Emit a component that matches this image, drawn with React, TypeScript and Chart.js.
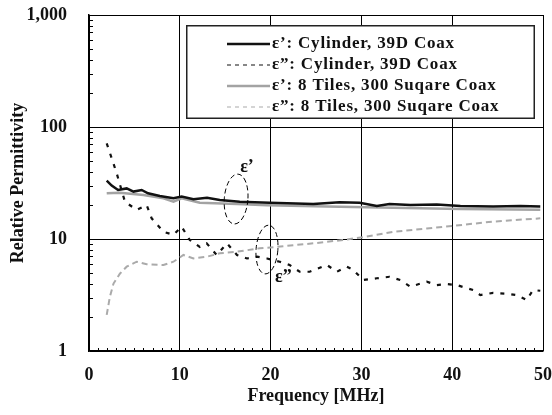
import React, { useEffect, useRef } from "react";
import { Chart, registerables } from "chart.js";

Chart.register(...registerables);

const legendLabels = [
  "ε’: Cylinder, 39D Coax",
  "ε”: Cylinder, 39D Coax",
  "ε’: 8 Tiles, 300 Suqare Coax",
  "ε”: 8 Tiles, 300 Suqare Coax",
];

const cylReal: [number, number][] = [
  [1.95, 33.2], [2.5, 30], [3.2, 27.4], [4.15, 28.3], [4.9, 26.5], [5.8, 27.4], [6.5, 25.6],
  [7.8, 24.2], [9.3, 23.1], [10.2, 23.9], [11.5, 22.6], [13.0, 23.4], [14.4, 22.3],
  [16.6, 21.5], [19.9, 21.1], [24.7, 20.5], [27.6, 21.3], [29.8, 21.1], [31.7, 19.7],
  [33.1, 20.5], [35.4, 20.1], [38.3, 20.3], [40.9, 19.7], [44.5, 19.5], [47.5, 19.7], [49.7, 19.5],
];

const cylImag: [number, number][] = [
  [1.95, 71.5], [2.5, 52.6], [3.05, 38.6], [3.96, 21.5], [5.25, 18.2], [6.35, 20.1], [6.9, 15.3],
  [8.2, 11.6], [9.3, 10.9], [10.2, 12.9], [11.1, 9.8], [12.2, 8.5], [12.96, 9.15], [14.06, 7.2],
  [15.2, 9.15], [16.3, 7.2], [17.4, 6.7], [18.5, 6.95], [19.6, 6.7], [21.0, 6.27], [22.1, 5.86],
  [23.2, 5.1], [24.3, 5.1], [26.2, 5.86], [27.3, 5.1], [28.4, 5.66], [29.1, 5.3], [30.2, 4.3],
  [31.7, 4.46], [33.1, 4.6], [34.3, 4.3], [35.4, 3.75], [37.2, 4.16], [38.3, 3.88], [39.4, 3.96],
  [40.5, 3.88], [42.3, 3.5], [43.1, 3.16], [44.5, 3.3], [46.0, 3.25], [47.1, 3.16], [48.2, 2.85],
  [48.9, 3.5], [49.7, 3.45],
];

const tileReal: [number, number][] = [
  [1.95, 25.6], [3.4, 25.9], [6.0, 24.7], [8.2, 23.1], [9.3, 21.5], [10.2, 23.1], [12.2, 21.1],
  [16.3, 20.5], [19.6, 20.0], [26.2, 19.5], [33.5, 19.0], [40.9, 18.5], [49.7, 18.2],
];

const tileImag: [number, number][] = [
  [1.95, 2.1], [2.3, 3.05], [2.7, 4.0], [3.4, 4.9], [4.15, 5.66], [5.25, 6.27], [6.35, 5.94],
  [8.2, 5.86], [9.3, 6.27], [10.4, 7.2], [11.5, 6.7], [13.0, 6.95], [14.4, 7.45], [16.3, 7.7],
  [18.8, 8.26], [20.7, 8.5], [22.5, 8.8], [24.7, 9.15], [28.0, 9.8], [30.2, 10.4], [33.5, 11.6],
  [37.2, 12.4], [40.1, 13.1], [44.5, 14.3], [49.7, 15.3],
];

const yTicks = [1, 10, 100, 1000];
const xTicks = [0, 10, 20, 30, 40, 50];

// annotation ellipses in data coords: [xMin, xMax, yMin, yMax]
const ellipses: [number, number, number, number][] = [
  [14.9, 17.5, 13.6, 38],
  [18.4, 20.8, 4.87, 13.3],
];
const annotLabels: [string, number, number][] = [
  ["ε’", 17.4, 44],
  ["ε”", 21.4, 4.5],
];

const FONT = "'Liberation Serif', 'DejaVu Serif', serif";

const decorPlugin = {
  id: "decor",
  afterDatasetsDraw(chart: any) {
    const ctx = chart.ctx;
    const xs = chart.scales.x;
    const ys = chart.scales.y;
    const area = chart.chartArea;
    ctx.save();
    ctx.strokeStyle = "#000";
    ctx.lineWidth = 1;
    // minor ticks
    ctx.beginPath();
    for (let v = 1; v < 50; v++) {
      if (v % 10 === 0) continue;
      const px = Math.round(xs.getPixelForValue(v)) + 0.5;
      ctx.moveTo(px, area.bottom);
      ctx.lineTo(px, area.bottom - 3);
    }
    for (let d = 1; d < 1000; d *= 10) {
      for (let m = 2; m <= 9; m++) {
        const py = Math.round(ys.getPixelForValue(d * m)) + 0.5;
        ctx.moveTo(area.left, py);
        ctx.lineTo(area.left + 4, py);
      }
    }
    ctx.stroke();

    // ellipses
    ctx.setLineDash([5, 3]);
    ctx.lineWidth = 1;
    for (const [x0, x1, y0, y1] of ellipses) {
      const l = xs.getPixelForValue(x0);
      const r = xs.getPixelForValue(x1);
      const t = ys.getPixelForValue(y1);
      const b = ys.getPixelForValue(y0);
      ctx.beginPath();
      ctx.ellipse((l + r) / 2, (t + b) / 2, (r - l) / 2, (b - t) / 2, 0.08, 0, Math.PI * 2);
      ctx.stroke();
    }
    ctx.setLineDash([]);
    ctx.fillStyle = "#111";
    ctx.font = `bold 18px ${FONT}`;
    ctx.textAlign = "center";
    ctx.textBaseline = "middle";
    for (const [t, x, y] of annotLabels) {
      ctx.fillText(t, xs.getPixelForValue(x), ys.getPixelForValue(y));
    }

    // legend box
    const bx = 186, by = 25, bw = 349, bh = 94;
    ctx.fillStyle = "#fff";
    ctx.fillRect(bx, by, bw, bh);
    ctx.strokeStyle = "#222";
    ctx.lineWidth = 1.5;
    ctx.strokeRect(bx + 0.75, by + 0.75, bw - 1.5, bh - 1.5);
    const styles = chart.data.datasets;
    ctx.textAlign = "left";
    ctx.textBaseline = "middle";
    ctx.font = `bold 17px ${FONT}`;
    (ctx as any).letterSpacing = "0.8px";
    legendLabels.forEach((lab, i) => {
      const yy = 44 + i * 21;
      const ds = styles[i];
      ctx.strokeStyle = ds.borderColor;
      ctx.lineWidth = i % 2 === 0 ? 2.5 : 1.2;
      ctx.setLineDash(i % 2 === 0 ? [] : [4, 4]);
      ctx.beginPath();
      ctx.moveTo(227, yy);
      ctx.lineTo(270, yy);
      ctx.stroke();
      ctx.setLineDash([]);
      ctx.fillStyle = "#111";
      ctx.fillText(lab, 272, yy);
    });
    ctx.restore();
  },
};

export default function App() {
  const ref = useRef<HTMLCanvasElement>(null);
  useEffect(() => {
    document.body.style.margin = "0";
    const toPts = (a: [number, number][]) => a.map(([x, y]) => ({ x, y }));
    const chart = new Chart(ref.current!, {
      type: "line",
      data: {
        datasets: [
          { label: legendLabels[0], data: toPts(cylReal), borderColor: "#111", borderWidth: 2.5, pointRadius: 0, tension: 0 },
          { label: legendLabels[1], data: toPts(cylImag), borderColor: "#111", borderWidth: 2.2, borderDash: [4, 7], pointRadius: 0 },
          { label: legendLabels[2], data: toPts(tileReal), borderColor: "#a3a3a3", borderWidth: 2.5, pointRadius: 0 },
          { label: legendLabels[3], data: toPts(tileImag), borderColor: "#aaaaaa", borderWidth: 2, borderDash: [6, 4], pointRadius: 0 },
        ],
      },
      options: {
        animation: false,
        responsive: false,
        layout: { padding: { top: 15, right: 9, left: 0, bottom: 0 } },
        plugins: { legend: { display: false }, tooltip: { enabled: false } },
        scales: {
          x: {
            type: "linear",
            min: 0,
            max: 50,
            afterBuildTicks: (s: any) => { s.ticks = xTicks.map((v) => ({ value: v })); },
            afterFit: (s: any) => { s.height = 64; s.paddingLeft = 0; s.paddingRight = 0; },
            grid: { color: "#000", lineWidth: 1, drawTicks: false },
            border: { color: "#000", width: 1.5 },
            ticks: { color: "#111", padding: 14, font: { family: FONT, size: 18, weight: "bold" } },
            title: { display: true, text: "Frequency [MHz]", color: "#111", padding: { top: 0, bottom: 8 }, font: { family: FONT, size: 18, weight: "bold" } },
          },
          y: {
            type: "logarithmic",
            min: 1,
            max: 1000,
            afterBuildTicks: (s: any) => { s.ticks = yTicks.map((v) => ({ value: v })); },
            afterFit: (s: any) => { s.width = 89; s.paddingTop = 0; s.paddingBottom = 0; },
            grid: { color: "#000", lineWidth: 1, drawTicks: false },
            border: { color: "#000", width: 1.5 },
            ticks: {
              color: "#111",
              padding: 22,
              font: { family: FONT, size: 18, weight: "bold" },
              callback: (v: any) => Number(v).toLocaleString("en-US"),
            },
            title: { display: true, text: "Relative Permittivity", color: "#111", padding: { top: 8, bottom: 0 }, font: { family: FONT, size: 18, weight: "bold" } },
          },
        },
      },
      plugins: [decorPlugin],
    });
    return () => chart.destroy();
  }, []);
  return (
    <div style={{ position: "fixed", left: 0, top: 0, width: 552, height: 415, background: "#fff" }}>
      <canvas ref={ref} width={552} height={415} style={{ width: 552, height: 415 }} />
    </div>
  );
}
